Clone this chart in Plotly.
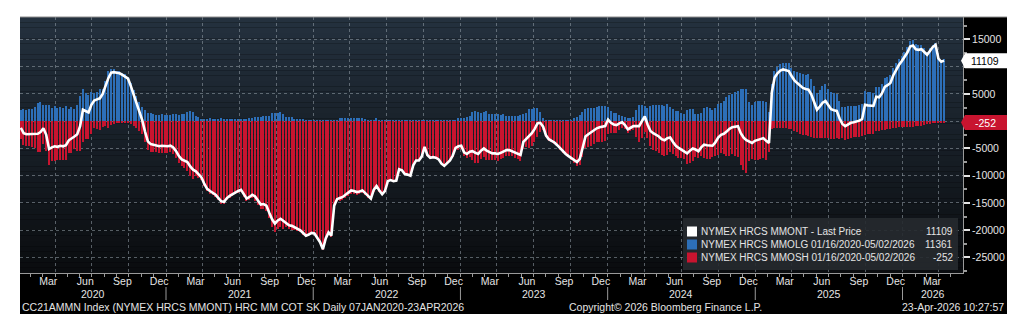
import pandas as pd
import plotly.graph_objects as go

# Weekly managed-money positions in NYMEX HRC steel futures (contracts)
mm_long = [
    2000, 2200, 2100, 2200, 2300, 2600, 3400, 3600, 2900, 3000,
    2900, 2500, 2700, 2400, 2600, 2500, 2700, 2300, 2600, 2300,
    3000, 4600, 6000, 5100, 4900, 5300, 5100, 5400, 5900, 6000,
    7400, 9200, 9600, 9500, 9300, 9200, 8900, 8600, 8100, 7000,
    5800, 4600, 3600, 2600, 2000, 1500, 1500, 1300, 1200, 1200,
    1300, 1200, 1200, 1200,
    1300, 1300, 1200, 1300, 1400, 1700, 1800, 1700, 900, 800,
    400, 400, 400, 500, 400, 400, 400, 500, 400, 400,
    400, 400, 400, 400, 400, 400, 400, 500, 500, 800,
    800, 800, 900, 900, 1000, 1500, 1500, 1500, 1600, 1400,
    700, 700, 700, 400, 400, 400, 400, 300, 100, 100,
    100, 100, 100, 100, 100,
    200, 200, 200, 300, 500, 500, 500, 600, 600, 600,
    500, 500, 500, 400, 300, 300, 300, 500, 200, 100,
    100, 100, 100, 100, 100, 100, 100, 100, 100, 100,
    100, 100, 100, 100, 100, 100, 100, 100, 100, 100,
    100, 100, 100, 100, 200, 300, 600, 600, 600, 700,
    1000, 1700, 1900, 1600, 1500, 1600,
    1800, 1400, 1300, 1300, 1300, 1200, 1300, 1000, 1000, 900,
    900, 1000, 1100, 1300, 1500, 2200, 2300, 2400, 2500, 1600,
    600, 300, 300, 300, 200, 200, 200, 200, 200, 200,
    300, 500, 700, 1100, 1600, 2200, 2400, 2500, 2500, 2600,
    2700, 2800, 2800, 2600, 1800, 1500, 1500, 1200, 1000, 700,
    600, 600, 700, 2000, 3000,
    3000, 2800, 2500, 2800, 3000, 3000, 3000, 2900, 2800, 3100,
    2600, 2200, 1900, 1900, 1500, 1400, 2000, 2200, 2300, 1300,
    1300, 1500, 2500, 2600, 2400, 2000, 2500, 3200, 3400, 3800,
    4400, 4900, 5000, 5300, 5600, 5900, 5900, 6000, 3500, 3000,
    3600, 3700, 3800, 3700, 3600, 1600, 6800, 9300, 10000, 10500,
    10700, 10700, 10700, 9800,
    9300, 9000, 8900, 8600, 8400, 8600, 7800, 6500, 5200, 5800,
    6400, 6800, 6000, 5400, 5200, 5000, 3800, 2600, 2600, 2700,
    2700, 2700, 2800, 3000, 3200, 5500, 5300, 5300, 5200, 6300,
    6200, 6800, 7900, 8100, 8500, 9700, 10700, 11400, 12000, 12700,
    13600, 14700, 14900, 14100, 14000, 14000, 13400, 12700, 13400, 14000,
    14400, 11900, 11200, 11361,
]

mm_short = [
    -3200, -4400, -4500, -4600, -4700, -5000, -5700, -5600, -4200, -5500,
    -8000, -7300, -7300, -7100, -7100, -7100, -7100, -5800, -5800, -5100,
    -5400, -5500, -3900, -3300, -3300, -2300, -1300, -1400, -1700, -1000,
    -900, -1300, -700, -500, -400, -400, -400, -400, -300, -600,
    -900, -1200, -1800, -2400, -3900, -5200, -5700, -5600, -5700, -5800,
    -5800, -5800, -5800, -5700,
    -6100, -6800, -7600, -8300, -8600, -9200, -10100, -10600, -10100, -10500,
    -10700, -11900, -12800, -13300, -13500, -13900, -14500, -15200, -15200, -14500,
    -14100, -13800, -13400, -13200, -13000, -13900, -14600, -14400, -14000, -14600,
    -15400, -16100, -16100, -16400, -17800, -19500, -20300, -19700, -19500, -19700,
    -19400, -19800, -19900, -19900, -20100, -20400, -20900, -21300, -20900, -20600,
    -20700, -21400, -22300, -23600, -21600,
    -20600, -21200, -15700, -14600, -14600, -14400, -14000, -13700, -13300, -13400,
    -13500, -13400, -13200, -13600, -14100, -14500, -12900, -12400, -12900, -13500,
    -12900, -11100, -10900, -11100, -11000, -8900, -9100, -9800, -9900, -10100,
    -8200, -7300, -7300, -6600, -4800, -6300, -6800, -6700, -6800, -7100,
    -7900, -8300, -7800, -7300, -6500, -5200, -5200, -5100, -6300, -6700,
    -6600, -7200, -7700, -7600, -6900, -6600,
    -7200, -7100, -7200, -7200, -7300, -7000, -6800, -6300, -6300, -6400,
    -6700, -7000, -7300, -5100, -4800, -5000, -4500, -3800, -2900, -1900,
    -1600, -2900, -3600, -3900, -4100, -4600, -5200, -5800, -6200, -6600,
    -7100, -7700, -8200, -8000, -6500, -5000, -4800, -4500, -4100, -3900,
    -3800, -3800, -3700, -2300, -2100, -2100, -2200, -1600, -1200, -1400,
    -2100, -1800, -1600, -2900, -3900,
    -3000, -1900, -3100, -4600, -5200, -5500, -5800, -6200, -6300, -6200,
    -5600, -6000, -6400, -6800, -6700, -7000, -7900, -7600, -7300, -6500,
    -6800, -6300, -6800, -7000, -6900, -6500, -6400, -6200, -5900, -6100,
    -6300, -6300, -6100, -6300, -6500, -8100, -8900, -9500, -7300, -7000,
    -7200, -7100, -7000, -6800, -7200, -5600, -1500, -1300, -1200, -1200,
    -1200, -1300, -1500, -1500,
    -1800, -2000, -2300, -2500, -2500, -2800, -2900, -3000, -3100, -3100,
    -3000, -3100, -3000, -3200, -3200, -3100, -3300, -3100, -3500, -3300,
    -3000, -2900, -2900, -2900, -2800, -2500, -2400, -2400, -2400, -1800,
    -1800, -1700, -1600, -1500, -1500, -1300, -1200, -1100, -1000, -1000,
    -1000, -1000, -1000, -900, -900, -800, -700, -500, -500, -400,
    -400, -400, -300, -252,
]

first_report = "2020-01-07"
report_dates = pd.date_range(first_report, periods=len(mm_long), freq="7D")
# net position = longs minus shorts (shorts are stored as negatives)
mm_net = [lg + sh for lg, sh in zip(mm_long, mm_short)]

series_names = [
    "NYMEX HRCS MMONT - Last Price",
    "NYMEX HRCS MMOLG 01/16/2020-05/02/2026",
    "NYMEX HRCS MMOSH 01/16/2020-05/02/2026",
]
month_names = {3: "Mar", 6: "Jun", 9: "Sep", 12: "Dec"}
y_ticks = list(range(-25000, 15001, 5000))
# the 10000 and 0 labels sit under the last-value tags
y_tick_text = [str(v) if v not in (0, 10000) else "" for v in y_ticks]

title_left = "CC21AMMN Index (NYMEX HRCS MMONT) HRC MM COT SK Daily 07JAN2020-23APR2026"
title_mid = "Copyright\u00a9 2026 Bloomberg Finance L.P."
title_right = "23-Apr-2026 10:27:57"

# ---- geometry & style ----
W, H = 1024, 336
M_L, M_R, M_T, M_B = 20, 61, 17, 63
PW, PH = W - M_L - M_R, H - M_T - M_B

def fx(px):
    return (px - M_L) / PW

def fy(py):
    return (H - M_B - py) / PH

FONT = "Liberation Sans, Arial, sans-serif"
FS = 10.5
BLUE = "#2d6fb8"
RED = "#c8142f"
GRID = "rgba(150,160,170,0.55)"
AXIS = "#9a9a9a"
TXT = "#e4e4e4"

x_start, x_end = pd.Timestamp("2020-01-05"), pd.Timestamp("2026-05-31")
y_min, y_max = -27850, 19120

quarter_starts = [d for d in pd.date_range("2020-01-01", "2026-12-31", freq="QS") if x_start < d < x_end]
month_starts = [d for d in pd.date_range("2020-01-01", "2026-12-31", freq="MS") if x_start < d < x_end]
label_months = [d + pd.Timedelta(days=14) for d in month_starts if d.month in month_names]
label_text = [month_names[d.month] for d in label_months]

bar_width = 3.4 * 86400000

fig = go.Figure()
fig.add_trace(go.Bar(x=report_dates, y=mm_long, width=bar_width, marker=dict(color=BLUE, line=dict(width=0)),
                     name=series_names[1]))
fig.add_trace(go.Bar(x=report_dates, y=mm_short, width=bar_width, marker=dict(color=RED, line=dict(width=0)),
                     name=series_names[2]))
# the net line lives on the labelled overlay axis, drawn above the bars
fig.add_trace(go.Scatter(x=report_dates, y=mm_net, mode="lines", line=dict(color="white", width=2.6),
                         name=series_names[0], xaxis="x2"))

shapes = []
# black panel behind plot, axes and footer
shapes.append(dict(type="rect", xref="paper", yref="paper", x0=fx(20), x1=fx(1007), y0=fy(314), y1=fy(17),
                   fillcolor="#000000", line=dict(width=0), layer="below"))
# vertical gradient inside the plotting area
n_strips = 48
top_rgb, bot_rgb = (36, 49, 62), (10, 12, 15)
for k in range(n_strips):
    t = (k + 0.5) / n_strips
    c = tuple(round(a + (b - a) * t) for a, b in zip(top_rgb, bot_rgb))
    shapes.append(dict(type="rect", xref="paper", yref="paper", x0=0, x1=1,
                       y0=1 - (k + 1) / n_strips, y1=1 - k / n_strips,
                       fillcolor="rgb(%d,%d,%d)" % c, line=dict(width=0), layer="below"))
shapes.append(dict(type="line", xref="paper", yref="paper", x0=fx(20), x1=fx(1007), y0=1, y1=1,
                   line=dict(color="#8c8c8c", width=1)))

# year separators under the month labels
for yr in range(2021, 2027):
    shapes.append(dict(type="line", xref="x", yref="paper", x0=pd.Timestamp(f"{yr}-01-01"),
                       x1=pd.Timestamp(f"{yr}-01-01"), y0=fy(287), y1=fy(300),
                       line=dict(color=AXIS, width=1)))

annotations = []
# year labels centred on the visible part of each year
for yr in range(2020, 2027):
    a = max(pd.Timestamp(f"{yr}-01-01"), x_start)
    b = min(pd.Timestamp(f"{yr + 1}-01-01"), x_end)
    annotations.append(dict(x=a + (b - a) / 2, y=fy(293.5), xref="x", yref="paper", text=str(yr),
                            showarrow=False, xanchor="center", yanchor="middle",
                            font=dict(family=FONT, size=FS, color=TXT)))

# footer line
for txt, px, anchor in [(title_left, 20, "left"), (title_mid, 567, "left"), (title_right, 1006, "right")]:
    annotations.append(dict(x=fx(px), y=fy(307), xref="paper", yref="paper", text=txt, showarrow=False,
                            xanchor=anchor, yanchor="middle", font=dict(family=FONT, size=FS, color=TXT)))

# legend box with last values
LFS = 10
shapes.append(dict(type="rect", xref="paper", yref="paper", x0=fx(683), x1=fx(958), y0=fy(270), y1=fy(218),
                   fillcolor="rgba(38,42,47,0.9)", line=dict(width=0)))
last_vals = [mm_net[-1], mm_long[-1], mm_short[-1]]
for row, (name, col, val) in enumerate(zip(series_names, ["#ffffff", BLUE, RED], last_vals)):
    yc = 231.5 + row * 13
    shapes.append(dict(type="rect", xref="paper", yref="paper", x0=fx(687), x1=fx(697),
                       y0=fy(yc + 5), y1=fy(yc - 5), fillcolor=col, line=dict(width=0)))
    annotations.append(dict(x=fx(699), y=fy(yc), xref="paper", yref="paper", text=name, showarrow=False,
                            xanchor="left", yanchor="middle", font=dict(family=FONT, size=LFS, color=TXT)))
    annotations.append(dict(x=fx(955), y=fy(yc), xref="paper", yref="paper", text=str(val), showarrow=False,
                            xanchor="right", yanchor="middle", font=dict(family=FONT, size=LFS, color=TXT)))

# last-value tags on the right axis
xl, xt, xr = fx(965), fx(961), fx(1007)
tag_path = f"M{xl},-7.5 L{xr},-7.5 L{xr},7.5 L{xl},7.5 L{xt},0 Z"
for val, fill, fcol in [(mm_net[-1], "#ffffff", "#000000"), (mm_short[-1], RED, "#ffffff")]:
    shapes.append(dict(type="path", xref="paper", yref="y", ysizemode="pixel", yanchor=val,
                       path=tag_path, fillcolor=fill, line=dict(width=0)))
    annotations.append(dict(x=fx(985), y=val, xref="paper", yref="y", text=str(val), showarrow=False,
                            xanchor="center", yanchor="middle", font=dict(family=FONT, size=FS, color=fcol)))

fig.update_layout(
    width=W, height=H,
    margin=dict(l=M_L, r=M_R, t=M_T, b=M_B, pad=0),
    paper_bgcolor="white", plot_bgcolor="rgba(0,0,0,0)",
    barmode="overlay", bargap=0, showlegend=False,
    font=dict(family=FONT, size=FS, color=TXT),
    shapes=shapes, annotations=annotations,
    xaxis=dict(type="date", range=[x_start, x_end], tickvals=quarter_starts, showticklabels=False, ticks="",
               showgrid=True, gridcolor=GRID, griddash="dot", gridwidth=1, zeroline=False,
               showline=True, linecolor=AXIS, linewidth=1, automargin=False, fixedrange=True,
               minor=dict(tickvals=month_starts, ticks="outside", ticklen=3, tickcolor=AXIS, showgrid=False)),
    xaxis2=dict(type="date", range=[x_start, x_end], overlaying="x", anchor="y", side="bottom",
                tickvals=label_months, ticktext=label_text, ticks="", showgrid=False, zeroline=False,
                showline=False, tickfont=dict(family=FONT, size=FS, color=TXT),
                automargin=False, fixedrange=True),
    yaxis=dict(range=[y_min, y_max], side="right", tickvals=y_ticks, ticktext=y_tick_text,
               showgrid=True, gridcolor=GRID, griddash="dot", gridwidth=1, zeroline=False,
               ticks="outside", ticklen=6, tickwidth=2, tickcolor=TXT, showline=True, linecolor=AXIS,
               tickfont=dict(family=FONT, size=FS, color=TXT), automargin=False, fixedrange=True,
               minor=dict(tickvals=list(range(-27500, 17501, 5000)), ticks="outside", ticklen=3,
                          tickcolor=AXIS, showgrid=False)),
)

fig.write_html("out.html")
